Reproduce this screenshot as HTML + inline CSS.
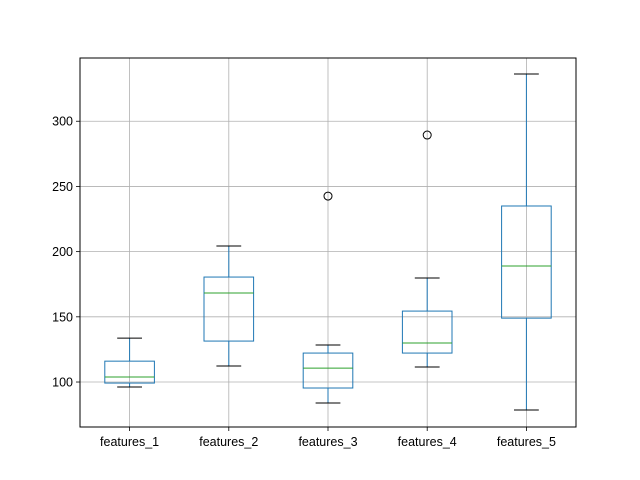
<!DOCTYPE html>
<html><head><meta charset="utf-8"><style>
html,body{margin:0;padding:0;background:#fff;}
svg{display:block;font-family:"Liberation Sans","DejaVu Sans",sans-serif;}
</style></head><body>
<svg id="chart" width="640" height="480"></svg>
<script>
const categories=["features_1","features_2","features_3","features_4","features_5"];
const whiskerLow=[96.2,112.3,83.9,111.5,78.5];
const q1=[99.2,131.4,95.4,122.2,149];
const medians=[103.8,168.3,110.7,129.9,189];
const q3=[116,180.5,122.2,154.4,235];
const whiskerHigh=[133.7,204.3,128.4,179.8,336.2];
const outliers=[[],[],[242.6],[289.4],[]];
const yTicks=[100,150,200,250,300];

const NS="http://www.w3.org/2000/svg";
const svg=document.getElementById('chart');
const L=80,R=576,T=58,B=427;
const yMin=65.5,yMax=348.5;
const y=v=>B-(v-yMin)/(yMax-yMin)*(B-T);
const step=(R-L)/categories.length;
const x=i=>L+step*(i+0.5);
function mk(tag,attrs,parent){const e=document.createElementNS(NS,tag);for(const k in attrs)e.setAttribute(k,attrs[k]);(parent||svg).appendChild(e);return e;}

const grid=mk('g',{});


yTicks.forEach(t=>{const l=mk('line',{x1:L,x2:R,y1:y(t),y2:y(t),stroke:'#b0b0b0','stroke-width':0.8},grid);

});
categories.forEach((c,i)=>{const l=mk('line',{x1:x(i),x2:x(i),y1:T,y2:B,stroke:'#b0b0b0','stroke-width':0.8},grid);

});

const hw=step*0.25, cw=step*0.125;
categories.forEach((c,i)=>{
 const g=mk('g',{});
 
 
 const cx=x(i);
 mk('line',{x1:cx,x2:cx,y1:y(whiskerLow[i]),y2:y(q1[i]),stroke:'#1f77b4','stroke-width':1},g);
 mk('line',{x1:cx,x2:cx,y1:y(q3[i]),y2:y(whiskerHigh[i]),stroke:'#1f77b4','stroke-width':1},g);
 mk('line',{x1:cx-cw,x2:cx+cw,y1:y(whiskerLow[i]),y2:y(whiskerLow[i]),stroke:'#000','stroke-width':1},g);
 mk('line',{x1:cx-cw,x2:cx+cw,y1:y(whiskerHigh[i]),y2:y(whiskerHigh[i]),stroke:'#000','stroke-width':1},g);
 mk('rect',{x:cx-hw,y:y(q3[i]),width:2*hw,height:y(q1[i])-y(q3[i]),fill:'none',stroke:'#1f77b4','stroke-width':1},g);
 mk('line',{x1:cx-hw,x2:cx+hw,y1:y(medians[i]),y2:y(medians[i]),stroke:'#2ca02c','stroke-width':1},g);
 outliers[i].forEach(o=>{const p=mk('circle',{cx:cx,cy:y(o),r:4,fill:'none',stroke:'#000','stroke-width':1},g);
 
 });
 mk('line',{x1:cx,x2:cx,y1:B,y2:B+4,stroke:'#000','stroke-width':0.8},g);
 const t=mk('text',{x:cx,y:B+19,'text-anchor':'middle','font-size':12.5,fill:'#000'});
 t.textContent=c;
 
 
});

yTicks.forEach(v=>{
 mk('line',{x1:L-4,x2:L,y1:y(v),y2:y(v),stroke:'#000','stroke-width':0.8});
 const t=mk('text',{x:L-7,y:y(v)+4.5,'text-anchor':'end','font-size':12.5,fill:'#000'});
 t.textContent=v;
 
 
});

const frame=mk('rect',{x:L,y:T,width:R-L,height:B-T,fill:'none',stroke:'#000','stroke-width':1});


</script>
</body></html>
